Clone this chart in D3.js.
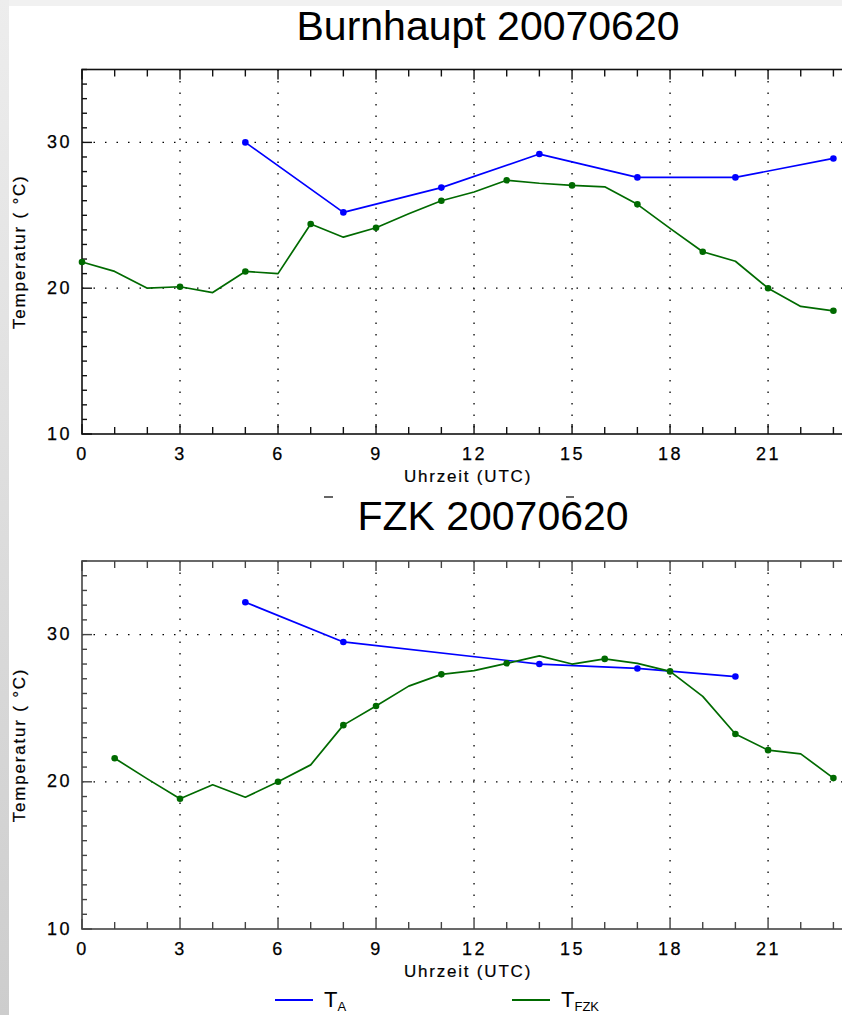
<!DOCTYPE html>
<html>
<head>
<meta charset="utf-8">
<script src="https://cdn.jsdelivr.net/npm/d3@7"></script>
<style>
  html, body { margin: 0; padding: 0; background: #fff; }
  svg { display: block; font-family: "Liberation Sans", Arial, sans-serif; }
</style>
</head>
<body>
<div id="chart"></div>
<script>
// ---------------------------------------------------------------------------
// data (hour of day, temperature in deg C)
// ---------------------------------------------------------------------------
var xTickLabels = [0, 3, 6, 9, 12, 15, 18, 21];
var yTickLabels = [10, 20, 30];

// Burnhaupt
var burnTaHours = [5, 8, 11, 14, 17, 20, 23];
var burnTa = [30.0, 25.2, 26.9, 29.2, 27.6, 27.6, 28.9];
var burnFzkHours = [0, 1, 2, 3, 4, 5, 6, 7, 8, 9, 10, 11, 12, 13, 14, 15, 16, 17, 18, 19, 20, 21, 22, 23];
var burnFzk = [21.8, 21.15, 20.0, 20.1, 19.7, 21.15, 21.0, 24.4, 23.5, 24.15, 25.1, 26.0,
               26.6, 27.4, 27.2, 27.05, 26.95, 25.75, 24.1, 22.5, 21.85, 20.0, 18.75, 18.45];
var burnFzkMarks = [0, 3, 5, 7, 9, 11, 13, 15, 17, 19, 21, 23];

// FZK
var fzkTaHours = [5, 8, 14, 17, 20];
var fzkTa = [32.2, 29.5, 28.0, 27.7, 27.15];
var fzkFzkHours = [1, 2, 3, 4, 5, 6, 7, 8, 9, 10, 11, 12, 13, 14, 15, 16, 17, 18, 19, 20, 21, 22, 23];
var fzkFzk = [21.6, 20.2, 18.85, 19.8, 18.95, 20.0, 21.15, 23.85, 25.15, 26.5, 27.3, 27.55,
              28.05, 28.55, 28.0, 28.35, 28.05, 27.5, 25.8, 23.25, 22.15, 21.9, 20.25];
var fzkFzkMarks = [1, 3, 6, 8, 9, 11, 13, 16, 18, 20, 21, 23];

var seriesNames = ["A", "FZK"];
var seriesColors = ["#0000ff", "#006a00"];

// ---------------------------------------------------------------------------
var width = 842,
   height = 1015;

var svg = d3.select("#chart").append("svg")
   .attr("width", width)
   .attr("height", height);

// grey page edges
var grad = svg.append("defs").append("linearGradient")
   .attr("id", "edge").attr("x1", 0).attr("y1", 0).attr("x2", 0).attr("y2", 1);
grad.append("stop").attr("offset", "0%").attr("stop-color", "#ededed");
grad.append("stop").attr("offset", "100%").attr("stop-color", "#cdcdcd");
svg.append("rect").attr("x", 0).attr("y", 0).attr("width", width).attr("height", 6).attr("fill", "#f1f1f1");
svg.append("rect").attr("x", 0).attr("y", 0).attr("width", 9).attr("height", height).attr("fill", "url(#edge)");

var x = d3.scaleLinear()
   .domain([0, 24])
   .range([82, 82 + 24 * 32.67]);

function toPoints(hours, vals) {
   return hours.map(function(h, i) { return {h: h, v: vals[i]}; });
}

function drawPanel(p) {
   var y = d3.scaleLinear().domain([10, 35]).range([p.bottom, p.top]);
   var g = svg.append("g");

   // title
   g.append("text")
      .attr("x", p.titleX).attr("y", p.titleY)
      .attr("text-anchor", "middle")
      .style("font-size", "41px")
      .text(p.title);

   // dotted grid
   g.selectAll(".vgrid").data(xTickLabels.slice(1))
      .enter().append("line")
      .attr("x1", function(d) { return x(d); }).attr("x2", function(d) { return x(d); })
      .attr("y1", p.top).attr("y2", p.bottom)
      .attr("stroke", "#000").attr("stroke-width", 1.3)
      .attr("stroke-dasharray", "1.5,10");
   g.selectAll(".hgrid").data(yTickLabels.slice(1))
      .enter().append("line")
      .attr("x1", x(0)).attr("x2", x(24))
      .attr("y1", function(d) { return y(d); }).attr("y2", function(d) { return y(d); })
      .attr("stroke", "#000").attr("stroke-width", 1.3)
      .attr("stroke-dasharray", "1.5,10");

   // inward ticks on all sides
   var hourTicks = d3.range(0, 25);
   var degTicks = d3.range(10, 36);
   function tickLen(d, big) { return d % 3 === 0 ? big : 7; }

   [p.bottom, p.top].forEach(function(yy, k) {
      g.selectAll(".xt" + k).data(hourTicks)
         .enter().append("line")
         .attr("x1", function(d) { return x(d); }).attr("x2", function(d) { return x(d); })
         .attr("y1", yy)
         .attr("y2", function(d) { return k === 0 ? yy - tickLen(d, 10) : yy + tickLen(d, 10); })
         .attr("stroke", p.frame).attr("stroke-width", 1.4);
   });
   g.selectAll(".yt").data(degTicks)
      .enter().append("line")
      .attr("x1", x(0))
      .attr("x2", function(d) { return x(0) + (d % 10 === 0 ? 10 : 5); })
      .attr("y1", function(d) { return y(d); }).attr("y2", function(d) { return y(d); })
      .attr("stroke", p.frame).attr("stroke-width", 1.4);

   // frame
   g.append("rect")
      .attr("x", x(0)).attr("y", p.top)
      .attr("width", x(24) - x(0)).attr("height", p.bottom - p.top)
      .attr("fill", "none").attr("stroke", p.frame).attr("stroke-width", 1.6);

   // tick labels
   var xAxis = g.append("g")
      .attr("transform", "translate(0," + p.bottom + ")")
      .call(d3.axisBottom(x).tickValues(xTickLabels).tickSize(0).tickPadding(13).tickFormat(d3.format("d")));
   var yAxis = g.append("g")
      .attr("transform", "translate(" + x(0) + ",0)")
      .call(d3.axisLeft(y).tickValues(yTickLabels).tickSize(0).tickPadding(10).tickFormat(d3.format("d")));
   [xAxis, yAxis].forEach(function(a) {
      a.select(".domain").remove();
      a.selectAll("text")
         .attr("fill", "#000")
         .attr("stroke", "#000").attr("stroke-width", 0.25)
         .style("font-family", "'Liberation Sans', Arial, sans-serif")
         .style("font-size", "18px")
         .style("letter-spacing", "2.5px");
   });
   yAxis.selectAll("text").attr("dy", "0.28em");

   // axis titles
   g.append("text")
      .attr("x", 468).attr("y", p.bottom + 48)
      .attr("text-anchor", "middle")
      .attr("stroke", "#000").attr("stroke-width", 0.2)
      .style("font-size", "17px").style("letter-spacing", "1.8px")
      .text("Uhrzeit (UTC)");
   g.append("text")
      .attr("transform", "translate(25," + ((p.top + p.bottom) / 2) + ") rotate(-90)")
      .attr("text-anchor", "middle")
      .attr("stroke", "#000").attr("stroke-width", 0.2)
      .style("font-size", "17px").style("letter-spacing", "1.8px")
      .text("Temperatur ( \u00b0C)");

   // series
   var line = d3.line()
      .x(function(d) { return x(d.h); })
      .y(function(d) { return y(d.v); });

   p.series.forEach(function(s, i) {
      var pts = toPoints(s.hours, s.vals);
      g.append("path")
         .datum(pts)
         .attr("fill", "none")
         .attr("stroke", seriesColors[i])
         .attr("stroke-width", 1.7)
         .attr("stroke-linejoin", "round")
         .attr("d", line);
      g.selectAll(".m" + i)
         .data(pts.filter(function(d) { return s.marks.indexOf(d.h) >= 0; }))
         .enter().append("circle")
         .attr("cx", function(d) { return x(d.h); })
         .attr("cy", function(d) { return y(d.v); })
         .attr("r", 3.3)
         .attr("fill", seriesColors[i]);
   });
}

drawPanel({
   top: 69.5, bottom: 434, frame: "#111",
   title: "Burnhaupt 20070620", titleX: 488, titleY: 40,
   series: [
      {hours: burnTaHours, vals: burnTa, marks: burnTaHours},
      {hours: burnFzkHours, vals: burnFzk, marks: burnFzkMarks}
   ]
});

drawPanel({
   top: 561, bottom: 929, frame: "#444",
   title: "FZK 20070620", titleX: 493, titleY: 530,
   series: [
      {hours: fzkTaHours, vals: fzkTa, marks: fzkTaHours},
      {hours: fzkFzkHours, vals: fzkFzk, marks: fzkFzkMarks}
   ]
});

// two stray dashes above the second title
[[324, 333], [566, 574]].forEach(function(d) {
   svg.append("line")
      .attr("x1", d[0]).attr("x2", d[1]).attr("y1", 497).attr("y2", 497)
      .attr("stroke", "#000").attr("stroke-width", 1.2);
});

// legend
var legend = svg.append("g").attr("transform", "translate(0,1000)");
var legendX = [275, 512];
seriesNames.forEach(function(name, i) {
   var lx = legendX[i];
   legend.append("line")
      .attr("x1", lx).attr("x2", lx + 38)
      .attr("y1", 0).attr("y2", 0)
      .attr("stroke", seriesColors[i]).attr("stroke-width", 1.8);
   var t = legend.append("text")
      .attr("x", lx + 49).attr("y", 7)
      .style("font-size", "22px")
      .text("T");
   t.append("tspan")
      .attr("dy", 4)
      .style("font-size", "13px")
      .text(name);
});
</script>
</body>
</html>
